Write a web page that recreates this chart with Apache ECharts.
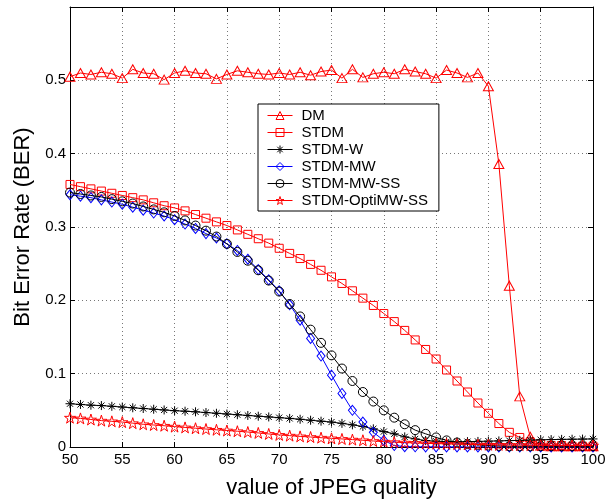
<!DOCTYPE html>
<html>
<head>
<meta charset="utf-8">
<script src="https://cdn.jsdelivr.net/npm/echarts@6/dist/echarts.min.js"></script>
<style>
html,body{margin:0;padding:0;background:#fff;}
#chart{width:616px;height:504px;}
</style>
</head>
<body>
<div id="chart"></div>
<script>
var quality = [50,51,52,53,54,55,56,57,58,59,60,61,62,63,64,65,66,67,68,69,70,71,72,73,74,75,76,77,78,79,80,81,82,83,84,85,86,87,88,89,90,91,92,93,94,95,96,97,98,99,100];

var seriesNames = ['DM','STDM','STDM-W','STDM-MW','STDM-MW-SS','STDM-OptiMW-SS'];

var dmBER = [0.505,0.510,0.508,0.511,0.509,0.503,0.515,0.510,0.509,0.501,0.510,0.513,0.510,0.509,0.502,0.508,0.513,0.511,0.509,0.508,0.510,0.508,0.511,0.507,0.512,0.514,0.503,0.515,0.504,0.509,0.511,0.509,0.515,0.512,0.509,0.503,0.514,0.510,0.504,0.510,0.492,0.386,0.220,0.069,0.014,0.002,0.001,0.001,0.001,0.001,0.001];

var stdmBER = [0.358,0.355,0.352,0.349,0.346,0.343,0.340,0.337,0.333,0.329,0.326,0.322,0.317,0.312,0.307,0.302,0.296,0.290,0.284,0.278,0.271,0.264,0.257,0.249,0.241,0.232,0.223,0.213,0.203,0.193,0.182,0.171,0.159,0.146,0.133,0.120,0.105,0.090,0.075,0.060,0.046,0.032,0.020,0.013,0.007,0.004,0.002,0.002,0.001,0.001,0.001];

var stdmWBER = [0.059,0.058,0.057,0.0565,0.0555,0.0545,0.0535,0.0525,0.0515,0.0505,0.0495,0.0488,0.048,0.047,0.046,0.045,0.044,0.043,0.042,0.041,0.040,0.039,0.0378,0.0365,0.0352,0.034,0.0322,0.0302,0.028,0.0248,0.021,0.018,0.0138,0.011,0.0088,0.0078,0.0072,0.0072,0.0073,0.0076,0.0080,0.0083,0.0087,0.0090,0.0094,0.0098,0.0101,0.0104,0.0106,0.0108,0.0110];

var stdmMWBER = [0.344,0.342,0.340,0.337,0.334,0.331,0.327,0.323,0.319,0.315,0.310,0.304,0.298,0.291,0.285,0.277,0.268,0.256,0.242,0.228,0.213,0.194,0.173,0.148,0.124,0.098,0.073,0.050,0.034,0.020,0.009,0.002,0.0005,0.0003,0.0002,0.0002,0.0001,0.0001,0.0001,0.0001,0.0001,0.0001,0.0001,0.0001,0.0001,0.0001,0.0001,0.0001,0.0001,0.0001,0.0001];

var stdmMWSSBER = [0.347,0.345,0.343,0.341,0.338,0.335,0.332,0.328,0.324,0.320,0.315,0.309,0.302,0.295,0.287,0.277,0.266,0.254,0.241,0.227,0.212,0.195,0.178,0.160,0.142,0.125,0.107,0.090,0.075,0.062,0.050,0.040,0.031,0.023,0.018,0.013,0.009,0.006,0.004,0.003,0.002,0.0015,0.001,0.001,0.001,0.001,0.001,0.001,0.001,0.001,0.001];

var optiBER = [0.040,0.039,0.0375,0.036,0.035,0.034,0.0325,0.031,0.030,0.029,0.0278,0.0267,0.0256,0.0245,0.0235,0.0225,0.0215,0.0204,0.0192,0.0178,0.0165,0.0155,0.0145,0.0136,0.0127,0.0118,0.0110,0.0101,0.0092,0.0082,0.0073,0.0066,0.0060,0.0055,0.0050,0.0046,0.0042,0.0039,0.0036,0.0033,0.0031,0.0029,0.0027,0.0026,0.0025,0.0024,0.0023,0.0022,0.0021,0.0021,0.0020];

var xTicks = [50,55,60,65,70,75,80,85,90,95,100];
var yTickLabels = ['0','0.1','0.2','0.3','0.4','0.5',''];

var asteriskPath = 'path://M5,0L5,10M0,5L10,5M1.6,1.6L8.4,8.4M1.6,8.4L8.4,1.6';
var starPath = 'path://M10,0L12.25,6.91L19.51,6.91L13.63,11.18L15.88,18.09L10,13.82L4.12,18.09L6.37,11.18L0.49,6.91L7.75,6.91Z';

var seriesStyle = [
  {values: dmBER, color: '#ff0000', symbol: 'triangle', size: [10, 9]},
  {values: stdmBER, color: '#ff0000', symbol: 'rect', size: [8, 8]},
  {values: stdmWBER, color: '#000000', symbol: asteriskPath, size: [9, 9]},
  {values: stdmMWBER, color: '#0000ff', symbol: 'diamond', size: [8, 10]},
  {values: stdmMWSSBER, color: '#000000', symbol: 'circle', size: [9, 9]},
  {values: optiBER, color: '#ff0000', symbol: starPath, size: [11, 11]}
];

var FONT = 'Liberation Sans, Arial, Helvetica, sans-serif';

var series = seriesStyle.map(function (s, i) {
  return {
    name: seriesNames[i],
    type: 'line',
    data: quality.map(function (q, k) { return [q, s.values[k]]; }),
    symbol: s.symbol,
    symbolSize: s.size,
    showAllSymbol: true,
    lineStyle: {color: s.color, width: 1},
    itemStyle: {color: 'rgba(0,0,0,0)', borderColor: s.color, borderWidth: 1},
    emphasis: {disabled: true},
    z: 2 + i,
    animation: false
  };
});

var chart = echarts.init(document.getElementById('chart'), null, {renderer: 'canvas'});
chart.setOption({
  animation: false,
  backgroundColor: '#ffffff',
  grid: {left: 70, top: 7, right: 23, bottom: 57, containLabel: false},
  legend: {
    data: seriesNames,
    orient: 'vertical',
    left: 258,
    top: 104,
    itemWidth: 25,
    itemHeight: 10,
    itemGap: 2,
    padding: [4, 11, 3, 9],
    backgroundColor: '#ffffff',
    borderColor: '#000000',
    borderWidth: 1,
    selectedMode: false,
    lineStyle: {width: 1},
    itemStyle: {borderWidth: 1},
    textStyle: {fontFamily: FONT, fontSize: 15, color: '#000', padding: [0, 0, 0, 4]}
  },
  xAxis: [{
    type: 'value',
    min: 50, max: 100, interval: 5,
    name: 'value of JPEG quality',
    nameLocation: 'middle',
    nameGap: 30,
    nameTextStyle: {fontFamily: FONT, fontSize: 22, color: '#000'},
    axisLine: {show: true, onZero: false, lineStyle: {color: '#000', width: 1}},
    axisTick: {show: true, inside: true, length: 5, lineStyle: {color: '#000'}},
    axisLabel: {fontFamily: FONT, fontSize: 15, color: '#000', margin: 5,
      formatter: function (v) { return xTicks.indexOf(v) >= 0 ? String(v) : ''; }},
    splitLine: {show: true, lineStyle: {color: '#777', type: [1, 3], width: 1}}
  }, {
    type: 'value', position: 'top',
    min: 50, max: 100, interval: 5,
    axisLine: {show: true, onZero: false, lineStyle: {color: '#000', width: 1}},
    axisTick: {show: true, inside: true, length: 5, lineStyle: {color: '#000'}},
    axisLabel: {show: false},
    splitLine: {show: false}
  }],
  yAxis: [{
    type: 'value',
    min: 0, max: 0.6, interval: 0.1,
    name: 'Bit Error Rate (BER)',
    nameLocation: 'middle',
    nameGap: 35,
    nameTextStyle: {fontFamily: FONT, fontSize: 22, color: '#000'},
    axisLine: {show: true, onZero: false, lineStyle: {color: '#000', width: 1}},
    axisTick: {show: true, inside: true, length: 5, lineStyle: {color: '#000'}},
    axisLabel: {fontFamily: FONT, fontSize: 15, color: '#000', margin: 4,
      formatter: function (v) { return yTickLabels[Math.round(v * 10)] || ''; }},
    splitLine: {show: true, lineStyle: {color: '#777', type: [1, 3], width: 1}}
  }, {
    type: 'value', position: 'right',
    min: 0, max: 0.6, interval: 0.1,
    axisLine: {show: true, onZero: false, lineStyle: {color: '#000', width: 1}},
    axisTick: {show: true, inside: true, length: 5, lineStyle: {color: '#000'}},
    axisLabel: {show: false},
    splitLine: {show: false}
  }],
  series: series
});
</script>
</body>
</html>
